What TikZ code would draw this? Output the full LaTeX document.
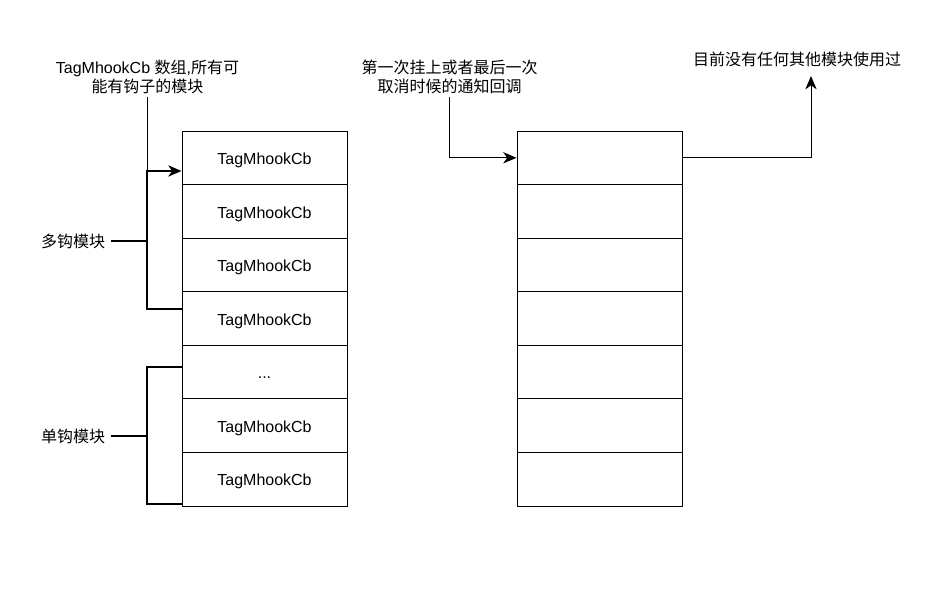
\documentclass[tikz,border=0pt]{standalone}
\usepackage{fontspec}
\setmainfont{Liberation Sans}
\newfontfamily\cjk{Noto Sans CJK SC}
\usetikzlibrary{arrows.meta,calc}
\begin{document}
\begin{tikzpicture}[x=0.75pt,y=-0.75pt,
  cell/.style={draw, line width=0.75pt, minimum width=123.75pt, minimum height=40.18pt, inner sep=0pt, text height=12.6pt, text depth=2.6pt, font=\fontsize{12}{14}\selectfont},
  lbl/.style={align=center, font=\fontsize{12}{14.25}\selectfont, inner sep=0pt},
  thinline/.style={line width=0.75pt},
  thickline/.style={line width=2pt},
  arr/.style={-{Stealth[length=10pt,width=8.5pt,inset=3pt]}}]
\useasboundingbox (0,0) rectangle (940,591);
% left column
\node[cell] (L1) at (264.5,157.8) {TagMhookCb};
\node[cell] (L2) at (264.5,211.4) {TagMhookCb};
\node[cell] (L3) at (264.5,265.0) {TagMhookCb};
\node[cell] (L4) at (264.5,318.6) {TagMhookCb};
\node[cell] (L5) at (264.5,372.1) {...};
\node[cell] (L6) at (264.5,425.7) {TagMhookCb};
\node[cell] (L7) at (264.5,479.3) {TagMhookCb};
% right column
\node[cell] (R1) at (599.5,157.8) {};
\node[cell] (R2) at (599.5,211.4) {};
\node[cell] (R3) at (599.5,265.0) {};
\node[cell] (R4) at (599.5,318.6) {};
\node[cell] (R5) at (599.5,372.1) {};
\node[cell] (R6) at (599.5,425.7) {};
\node[cell] (R7) at (599.5,479.3) {};
% labels
\node[lbl] (t1) at (147.5,76.5) {TagMhookCb {\cjk 数组},{\cjk 所有可}\\{\cjk 能有钩子的模块}};
\node[lbl] (t2) at (449.5,76.5) {\cjk 第一次挂上或者最后一次\\\cjk 取消时候的通知回调};
\node[lbl] (t3) at (797,59) {\cjk 目前没有任何其他模块使用过};
\node[lbl] (m1) at (73,241) {\cjk 多钩模块};
\node[lbl] (m2) at (73,436) {\cjk 单钩模块};
% coordinates
\coordinate (s1) at (147,97);
\coordinate (s2) at (449.5,97);
\coordinate (b1t) at (147,171);
\coordinate (b1b) at (147,309);
\coordinate (b1m) at (147,241);
\coordinate (b2t) at (147,367);
\coordinate (b2b) at (147,504);
\coordinate (b2m) at (147,436);
\coordinate (up3) at (811,76);
% brackets
\draw[thickline] ($(b1t)+(28,0)$) -- (b1t) -- (b1b) -- (L4.west |- b1b);
\draw[thickline] ($(m1.east)+(6,0)$) -- (b1m);
\draw[thickline] (L5.west |- b2t) -- (b2t) -- (b2b) -- (L7.west |- b2b);
\draw[thickline] ($(m2.east)+(6,0)$) -- (b2m);
% arrows
\draw[thinline,arr] (s1) -- (b1t) -- (L1.west |- b1t);
\draw[thinline,arr] (s2) |- (R1.west);
\draw[thinline,arr] (R1.east) -| (up3);
\end{tikzpicture}
\end{document}
